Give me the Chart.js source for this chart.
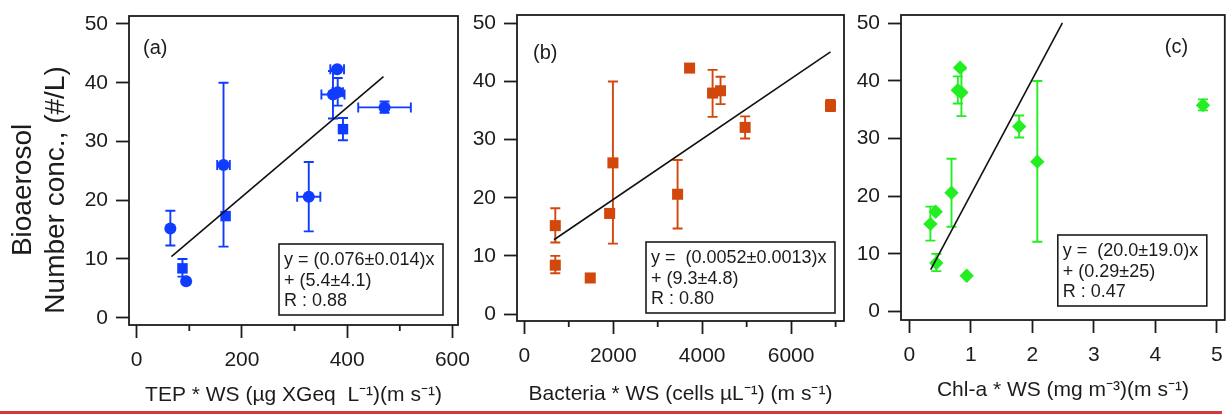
<!DOCTYPE html>
<html><head><meta charset="utf-8">
<script src="https://cdn.jsdelivr.net/npm/chart.js@4.4.1/dist/chart.umd.min.js"></script>
<style>
html,body{margin:0;padding:0;background:#fff;}
#wrap{position:relative;width:1232px;height:418px;overflow:hidden;background:#fff;}
canvas{position:absolute;top:0;}
#redline{position:absolute;left:0;top:411px;width:1222px;height:3px;background:#d4363a;}
</style></head><body>
<div id="wrap">
<canvas id="ca" width="490" height="418" style="left:0px;width:490px;height:418px"></canvas>
<canvas id="cb" width="420" height="418" style="left:460px;width:420px;height:418px"></canvas>
<canvas id="cc" width="382" height="418" style="left:850px;width:382px;height:418px"></canvas>
<div id="redline"></div>
</div>
<script>
// ---------- data ----------
const yValues   = [15.2, 8.4, 6.2, 26.0, 17.3, 20.6, 42.3, 38.0, 38.4, 32.1, 35.8];
const yErrLow   = [12.3, 7.0, null, 12.1, null, 14.7, null, 33.9, 36.1, 30.2, 34.9];
const yErrHigh  = [18.2, 10.0, null, 40.0, null, 26.5, null, 42.0, 40.8, 34.0, 36.8];

const tepWS      = [64, 87, 94, 165, 169, 327, 381, 373, 382, 392, 471];
const tepWSErr   = [null, null, null, 12, null, 22, 13, 22, 10, null, 50];
const tepMarkers = ['circle','rect','circle','circle','rect','circle','circle','circle','circle','rect','circle'];

const bactWS = [697, 697, 1483, 1993, 1919, 3447, 3717, 4234, 4413, 4966, 6885];
const chlWS  = [0.344, 0.44, 0.934, 2.082, 0.43, 0.687, 0.827, 0.848, 0.789, 1.787, 4.775];

const yTicks   = [0, 10, 20, 30, 40, 50];
const xTicksA  = [0, 200, 400, 600];
const xMinorA  = [100, 300, 500];
const xTicksB  = [0, 2000, 4000, 6000];
const xMinorB  = [1000, 3000, 5000, 7000];
const xTicksC  = [0, 1, 2, 3, 4, 5];
const xMinorC  = [];

const fitA = {slope: 0.076,  intercept: 5.4,  from: 66,   to: 469};
const fitB = {slope: 0.0052, intercept: 9.3,  from: 667,  to: 6885};
const fitC = {slope: 20.0,   intercept: 0.29, from: 0.349, to: 2.49};

const statsA = ['y = (0.076\u00B10.014)x', '+ (5.4\u00B14.1)', 'R : 0.88'];
const statsB = ['y =  (0.0052\u00B10.0013)x', '+ (9.3\u00B14.8)', 'R : 0.80'];
const statsC = ['y =  (20.0\u00B119.0)x', '+ (0.29\u00B125)', 'R : 0.47'];

const xTitleA = 'TEP * WS (\u00B5g XGeq  L\u207B\u00B9)(m s\u207B\u00B9)';
const xTitleB = 'Bacteria * WS (cells \u00B5L\u207B\u00B9) (m s\u207B\u00B9)';
const xTitleC = 'Chl-a * WS (mg m\u207B\u00B3)(m s\u207B\u00B9)';
const yTitleLines = ['Bioaerosol     ', 'Number conc., (#/L)     '];

// ---------- drawing ----------
const FONT = "'Liberation Sans', Arial, Helvetica, sans-serif";
const INK = '#1c1c1c';

function buildPanel(p) {
  const points = p.x.map((x, i) => ({x: x, y: yValues[i]}));
  const fitPts = [p.fit.from, p.fit.to].map(x => ({x: x, y: p.fit.slope * x + p.fit.intercept}));

  const decor = {
    id: 'decor' + p.id,
    beforeDatasetsDraw(chart) {
      const {ctx, chartArea: a, scales: {x: xs, y: ys}} = chart;
      ctx.save();
      ctx.beginPath(); ctx.rect(a.left, a.top, a.right - a.left, a.bottom - a.top); ctx.clip();
      ctx.strokeStyle = p.color; ctx.lineWidth = 1.9;
      const cap = 5;
      p.x.forEach((xv, i) => {
        const px = xs.getPixelForValue(xv), py = ys.getPixelForValue(yValues[i]);
        if (yErrLow[i] !== null) {
          const y1 = ys.getPixelForValue(yErrLow[i]), y2 = ys.getPixelForValue(yErrHigh[i]);
          ctx.beginPath();
          ctx.moveTo(px, y1); ctx.lineTo(px, y2);
          ctx.moveTo(px - cap, y1); ctx.lineTo(px + cap, y1);
          ctx.moveTo(px - cap, y2); ctx.lineTo(px + cap, y2);
          ctx.stroke();
        }
        if (p.xErr && p.xErr[i] !== null) {
          const x1 = xs.getPixelForValue(xv - p.xErr[i]), x2 = xs.getPixelForValue(xv + p.xErr[i]);
          ctx.beginPath();
          ctx.moveTo(x1, py); ctx.lineTo(x2, py);
          ctx.moveTo(x1, py - cap); ctx.lineTo(x1, py + cap);
          ctx.moveTo(x2, py - cap); ctx.lineTo(x2, py + cap);
          ctx.stroke();
        }
      });
      ctx.restore();
    },
    afterDraw(chart) {
      const {ctx, chartArea: a, scales: {x: xs}} = chart;
      ctx.save();
      ctx.strokeStyle = INK; ctx.lineWidth = 1.8;
      ctx.strokeRect(a.left, a.top, a.right - a.left, a.bottom - a.top);
      p.minor.forEach(v => {
        const px = xs.getPixelForValue(v);
        ctx.beginPath(); ctx.moveTo(px, a.bottom); ctx.lineTo(px, a.bottom + 6); ctx.stroke();
      });
      ctx.fillStyle = INK; ctx.font = '20px ' + FONT; ctx.textBaseline = 'middle'; ctx.textAlign = 'left';
      const lx = p.labelPos.fromRight ? a.right - p.labelPos.dx : a.left + p.labelPos.dx;
      ctx.fillText(p.label, lx, a.top + p.labelPos.dy);
      const b = p.box;
      const bx = a.right - b.right - b.w, by = a.bottom - b.bottom - b.h;
      ctx.fillStyle = '#fff';
      ctx.fillRect(bx, by, b.w, b.h);
      ctx.strokeStyle = INK; ctx.lineWidth = 1.6;
      ctx.strokeRect(bx, by, b.w, b.h);
      ctx.fillStyle = INK; ctx.font = '18px ' + FONT; ctx.textBaseline = 'alphabetic';
      p.stats.forEach((t, i) => ctx.fillText(t, bx + 5, by + 21 + i * 20.5));
      ctx.restore();
    }
  };

  const canvasH = 418;
  return new Chart(document.getElementById(p.id), {
    type: 'scatter',
    data: {
      datasets: [
        {data: fitPts, showLine: true, borderColor: '#111', borderWidth: 1.6, pointRadius: 0, fill: false, order: 0},
        {data: points, pointStyle: p.markers, pointRadius: p.radius, pointHoverRadius: p.radius,
         pointBackgroundColor: p.color, pointBorderColor: p.color, pointBorderWidth: 0, showLine: false, order: 1}
      ]
    },
    options: {
      responsive: false, animation: false, devicePixelRatio: 1,
      layout: {padding: {left: 0, right: p.padRight, top: p.boxTop, bottom: 0}},
      plugins: {legend: {display: false}, tooltip: {enabled: false}, title: {display: false}},
      scales: {
        x: {
          type: 'linear', position: 'bottom', min: p.xMin, max: p.xMax,
          afterBuildTicks: s => { s.ticks = p.xTicks.map(v => ({value: v})); },
          afterFit: s => { s.height = canvasH - p.boxBottom; s.paddingLeft = 0; s.paddingRight = 0; },
          border: {display: false},
          grid: {drawOnChartArea: false, drawTicks: true, tickLength: 13, tickWidth: 1.8, tickColor: INK},
          ticks: {color: INK, font: {family: FONT, size: 21}, padding: 10, autoSkip: false, maxRotation: 0,
                  callback: v => String(v)},
          title: {display: true, text: p.xTitle, color: INK, font: {family: FONT, size: 21},
                  padding: {top: 0, bottom: p.xTitlePad}}
        },
        y: {
          type: 'linear', position: 'left', min: p.yMin, max: p.yMax,
          afterBuildTicks: s => { s.ticks = yTicks.map(v => ({value: v})); },
          afterFit: s => { s.width = p.boxLeft; s.paddingTop = 0; s.paddingBottom = 0; },
          border: {display: false},
          grid: {drawOnChartArea: false, drawTicks: true, tickLength: 13, tickWidth: 1.8, tickColor: INK},
          ticks: {color: INK, font: {family: FONT, size: 21}, padding: 8, callback: v => String(v)},
          title: p.yTitle ? {display: true, text: p.yTitle, color: INK, font: {family: FONT, size: 28},
                  padding: {top: 6, bottom: 0}} : {display: false}
        }
      }
    },
    plugins: [decor]
  });
}

buildPanel({
  id: 'ca', x: tepWS, xErr: tepWSErr, markers: tepMarkers,
  radius: tepMarkers.map(m => m === 'rect' ? 7.4 : 6),
  color: '#0f3cff', xTicks: xTicksA, minor: xMinorA, fit: fitA, stats: statsA,
  xTitle: xTitleA, yTitle: yTitleLines, label: '(a)',
  xMin: -14.6, xMax: 610.6, yMin: -1.24, yMax: 51.36,
  boxLeft: 129, boxTop: 16, boxBottom: 325, padRight: 32, xTitlePad: 10,
  labelPos: {dx: 14, dy: 32}, box: {right: 15, bottom: 10, w: 164, h: 71}
});
buildPanel({
  id: 'cb', x: bactWS, xErr: null, markers: 'rect', radius: 7.8,
  color: '#d2480c', xTicks: xTicksB, minor: xMinorB, fit: fitB, stats: statsB,
  xTitle: xTitleB, yTitle: null, label: '(b)',
  xMin: -164, xMax: 7189, yMin: -1.20, yMax: 51.43,
  boxLeft: 57, boxTop: 15, boxBottom: 321, padRight: 36, xTitlePad: 11,
  labelPos: {dx: 16, dy: 38}, box: {right: 9, bottom: 8, w: 189, h: 71}
});
buildPanel({
  id: 'cc', x: chlWS, xErr: null, markers: 'rectRot', radius: 7.2,
  color: '#22ee22', xTicks: xTicksC, minor: xMinorC, fit: fitC, stats: statsC,
  xTitle: xTitleC, yTitle: null, label: '(c)',
  xMin: -0.134, xMax: 5.13, yMin: -1.47, yMax: 51.44,
  boxLeft: 51, boxTop: 15, boxBottom: 320, padRight: 4, xTitlePad: 15,
  labelPos: {fromRight: true, dx: 60, dy: 32}, box: {right: 18, bottom: 14, w: 149, h: 71}
});
</script>
</body></html>
